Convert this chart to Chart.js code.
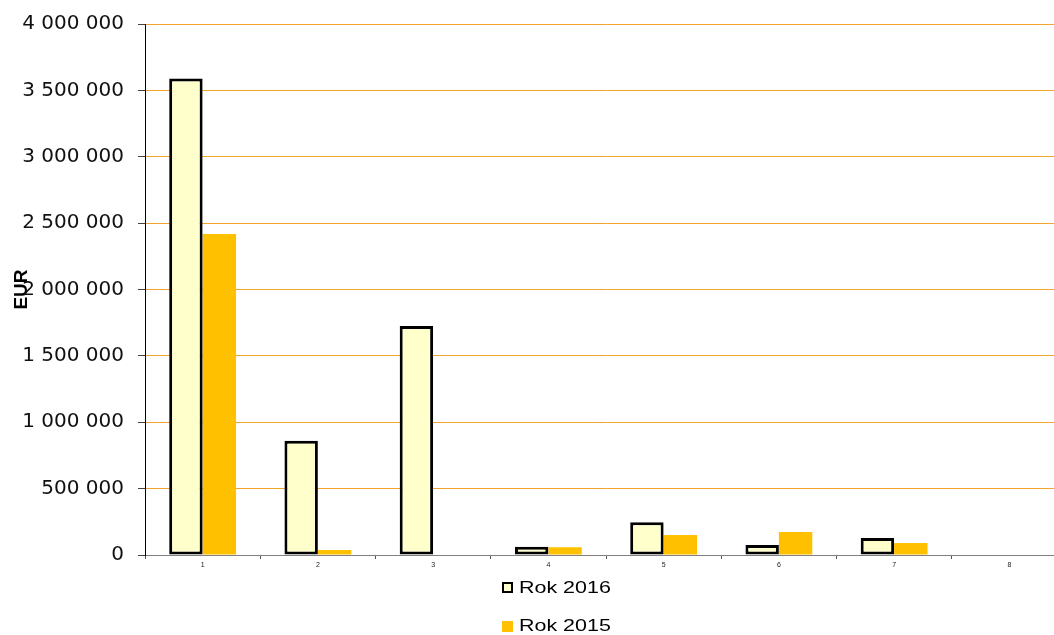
<!DOCTYPE html>
<html>
<head>
<meta charset="utf-8">
<script src="https://cdn.jsdelivr.net/npm/chart.js@4/dist/chart.umd.min.js"></script>
<style>
html,body{margin:0;padding:0;overflow:hidden;background:#fff;}
#wrap{width:1054px;height:635px;overflow:hidden;}
</style>
</head>
<body>
<div id="wrap"><canvas id="c" width="1067" height="635"></canvas></div>
<script>
const categories = ['1','2','3','4','5','6','7','8'];
const rok2016 = [3590000, 860000, 1725000, 62000, 246000, 75000, 128000, 0];
const rok2015 = [2418000, 38000, 0, 58000, 150000, 173000, 90000, 0];
const yTicks = [0, 500000, 1000000, 1500000, 2000000, 2500000, 3000000, 3500000, 4000000];
const seriesLabels = ['Rok 2016', 'Rok 2015'];
const axisTitle = 'EUR';

function fmt(v){ return String(v).replace(/\B(?=(\d{3})+(?!\d))/g, ' '); }

const legendPlugin = {
  id: 'stackLegend',
  afterDraw(chart){
    const ctx = chart.ctx;
    const items = [{y:582, ty:588}, {y:621, ty:626}];
    chart.data.datasets.forEach((ds, i) => {
      const it = items[i];
      ctx.save();
      ctx.fillStyle = ds.backgroundColor;
      ctx.fillRect(502, it.y, 11, 11);
      if (ds.borderWidth) {
        ctx.strokeStyle = '#000';
        ctx.lineWidth = 2;
        ctx.strokeRect(503, it.y+1, 9, 9);
      }
      ctx.translate(519, it.ty);
      ctx.scale(1.3, 1);
      ctx.fillStyle = '#000';
      ctx.font = '16.5px "Liberation Sans", Arial, sans-serif';
      ctx.textBaseline = 'middle';
      ctx.fillText(ds.label, 0, 0);
      ctx.restore();
    });
  }
};

new Chart(document.getElementById('c'), {
  type: 'bar',
  data: {
    labels: categories,
    datasets: [
      {label: seriesLabels[0], data: rok2016, backgroundColor: '#FFFFCC', borderColor: '#000000', borderWidth: 3, borderSkipped: false, categoryPercentage: 0.58, barPercentage: 1},
      {label: seriesLabels[1], data: rok2015, backgroundColor: '#FFC000', borderWidth: 0, categoryPercentage: 0.58, barPercentage: 1}
    ]
  },
  options: {
    responsive: false,
    animation: false,
    devicePixelRatio: 1,
    layout: {padding: {left: 0, top: 24, right: 0, bottom: 60}},
    plugins: {legend: {display: false}, tooltip: {enabled: false}},
    scales: {
      x: {
        grid: {display: true, drawOnChartArea: false, offset: true, tickLength: 4, tickColor: '#555'},
        border: {color: '#808080', width: 1},
        ticks: {font: {size: 7, family: '"Liberation Sans", Arial, sans-serif'}, color: '#222', padding: 2, maxRotation: 0},
        afterFit(s){ s.height = 20; s.paddingLeft = 0; s.paddingRight = 0; }
      },
      y: {
        min: 0, max: 4000000,
        afterBuildTicks(s){ s.ticks = yTicks.map(v => ({value: v})); },
        grid: {color: '#F2A42A', lineWidth: 1, tickLength: 7, tickColor: '#444'},
        border: {color: '#000', width: 1},
        ticks: {callback: v => fmt(v), font: {size: 20, family: '"DejaVu Sans", sans-serif'}, color: '#111', padding: 14},
        title: {display: true, text: axisTitle, font: {size: 19, weight: 'bold', family: '"Liberation Sans", Arial, sans-serif'}, color: '#000', padding: {top: 10, bottom: 0}},
        afterFit(s){ s.width = 145; s.paddingTop = 0; s.paddingBottom = 0; }
      }
    }
  },
  plugins: [legendPlugin]
});
</script>
</body>
</html>
